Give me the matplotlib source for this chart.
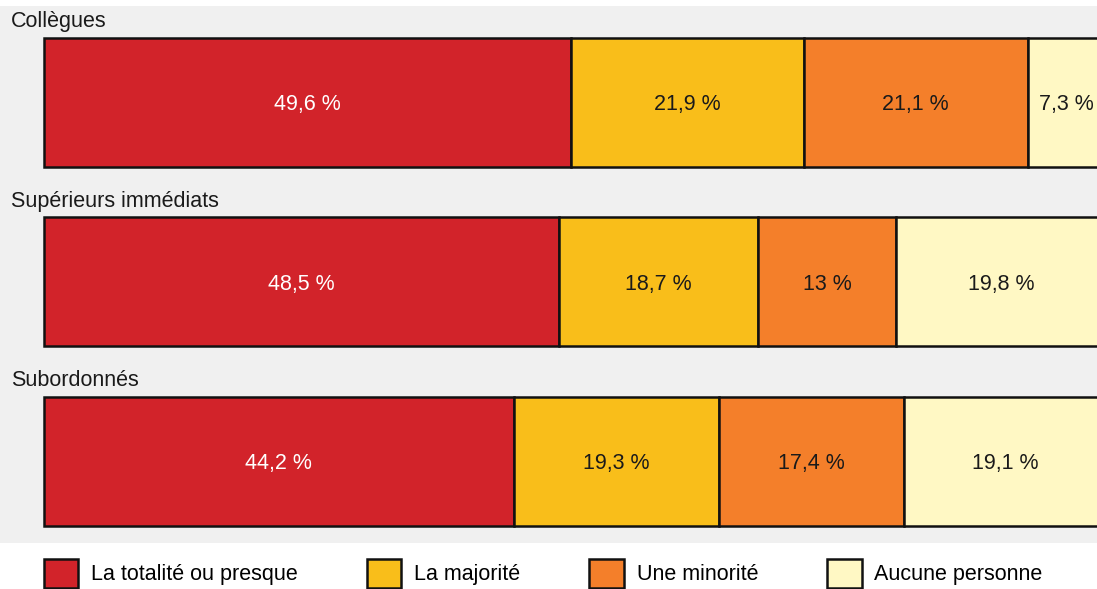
import matplotlib.pyplot as plt
from matplotlib.patches import Rectangle, Patch
import numpy as np

# data
groups = ['Collègues', 'Supérieurs immédiats', 'Subordonnés']
categories = ['La totalité ou presque', 'La majorité', 'Une minorité', 'Aucune personne']
totalite = [49.6, 48.5, 44.2]
majorite = [21.9, 18.7, 19.3]
minorite = [21.1, 13.0, 17.4]
aucune = [7.3, 19.8, 19.1]

colors = ['#d2232a', '#f9be1a', '#f47f2a', '#fff8c4']
text_colors = ['white', '#1a1a1a', '#1a1a1a', '#1a1a1a']

plt.rcParams['font.family'] = ['Liberation Sans', 'DejaVu Sans']
FS = 15.5

W, H = 1097, 589
fig = plt.figure(figsize=(W / 100, H / 100), dpi=100)

# grey band behind the bars
fig.patches.append(Rectangle((0, 1 - 543 / H), 1, (543 - 6) / H,
                             transform=fig.transFigure, facecolor='#f0f0f0',
                             edgecolor='none', zorder=-1))

# axes: 0..100 % spans px 44 -> 1106.5 (runs past the right edge)
ax = fig.add_axes([44 / W, 1 - 550.75 / H, 1062.5 / W, (550.75 - 12.75) / H])
ax.set_facecolor('none')
ax.set_zorder(2)

y = np.arange(len(groups))
series = [totalite, majorite, minorite, aucune]
left = np.zeros(len(groups))
for vals, col, tc in zip(series, colors, text_colors):
    vals = np.array(vals)
    ax.barh(y, vals, left=left, height=0.72, color=col, edgecolor='#111111',
            linewidth=1.8, clip_on=False)
    for yi, l, v in zip(y, left, vals):
        lab = ('%g' % v).replace('.', ',') + ' %'
        ax.text(l + v / 2, yi, lab, ha='center', va='center_baseline', color=tc,
                fontsize=FS, clip_on=False)
    left = left + vals

for yi, g in zip(y, groups):
    ax.text(-3.1, yi - 0.36 - 0.09, g, ha='left', va='center', fontsize=FS,
            color='#1a1a1a', clip_on=False)

ax.set_xlim(0, 100)
ax.set_ylim(2.5, -0.5)
ax.axis('off')

handles = [Patch(facecolor=c, edgecolor='#111111', linewidth=1.8) for c in colors]
fig.legend(handles, categories, loc='upper left',
           bbox_to_anchor=(44 / W, 1 - 559 / H), ncol=4, frameon=False,
           fontsize=FS, handlelength=1.6, handleheight=1.67,
           handletextpad=0.6, columnspacing=3.2, borderpad=0,
           borderaxespad=0)

fig.savefig('out.png', dpi=100)
